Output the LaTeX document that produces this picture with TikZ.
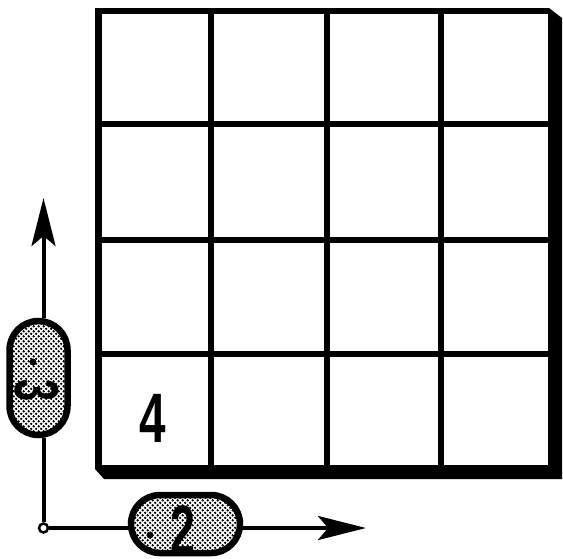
\documentclass[tikz,border=0pt]{standalone}
\usepackage{fontspec}
\setmainfont{Liberation Sans}
\usetikzlibrary{arrows.meta,patterns.meta}
\tikzdeclarepattern{name=halftone, type=uncolored,
  bounding box={(0pt,0pt) and (5.4pt,5.4pt)}, tile size={(5.4pt,5.4pt)},
  code={\fill (1.35pt,1.35pt) circle (1.4pt); \fill (4.05pt,4.05pt) circle (1.4pt);}}
\tikzset{
  capsule/.style={draw, line width=6.5pt, pattern=halftone, inner sep=0pt},
  digit/.style={inner sep=0pt, font=\bfseries\fontsize{70}{70}\selectfont},
  spot/.style={circle, fill, inner sep=0pt, minimum size=7pt},
  axis/.style={line width=4pt, -{Stealth[length=48pt,width=24pt,inset=10pt]}},
  wire/.style={line width=4pt},
  gridline/.style={line width=5.5pt}
}
\begin{document}
\begin{tikzpicture}[x=1pt,y=-1pt]
\useasboundingbox (0,0) rectangle (563,558);
% box with shadow
\fill (95,8) -- (549,8) -- (562,18) -- (562,479) -- (104,479) -- (95,469) -- cycle;
\fill[white] (101.5,14) rectangle (548,465);
\foreach \gx in {211,327,441} \draw[gridline] (\gx,14) -- (\gx,465);
\foreach \gy in {124,240,354} \draw[gridline] (101,\gy) -- (548,\gy);
\node[digit] (n4) at (153,418) {\scalebox{0.68}[1]{4}};
% capsules
\node[capsule, minimum width=58pt, minimum height=114pt, rounded corners=29pt] (v3) at (38.5,378) {};
\node[capsule, minimum width=109pt, minimum height=58pt, rounded corners=29pt] (h2) at (185.5,524) {};
\node[digit] (t3) at (36.5,391) {\rotatebox{-90}{\scalebox{0.64}[1]{\fontsize{62}{62}\selectfont 3}}};
\node[spot] (d3) at (33,362) {};
\node[digit] (t2) at (183,530) {\scalebox{0.64}[1]{2}};
\node[spot] (d2) at (150,535) {};
% axes
\node[circle, draw, fill=white, line width=2.5pt, minimum size=9pt, inner sep=0pt] (o) at (43.5,528) {};
\coordinate (ytip) at (43.5,198);
\coordinate (xtip) at (366,528);
\draw[wire] (o) -- (o |- v3.south);
\draw[axis] (o |- v3.north) -- (ytip);
\draw[wire] (o) -- (o -| h2.west);
\draw[axis] (o -| h2.east) -- (xtip);
\end{tikzpicture}
\end{document}
